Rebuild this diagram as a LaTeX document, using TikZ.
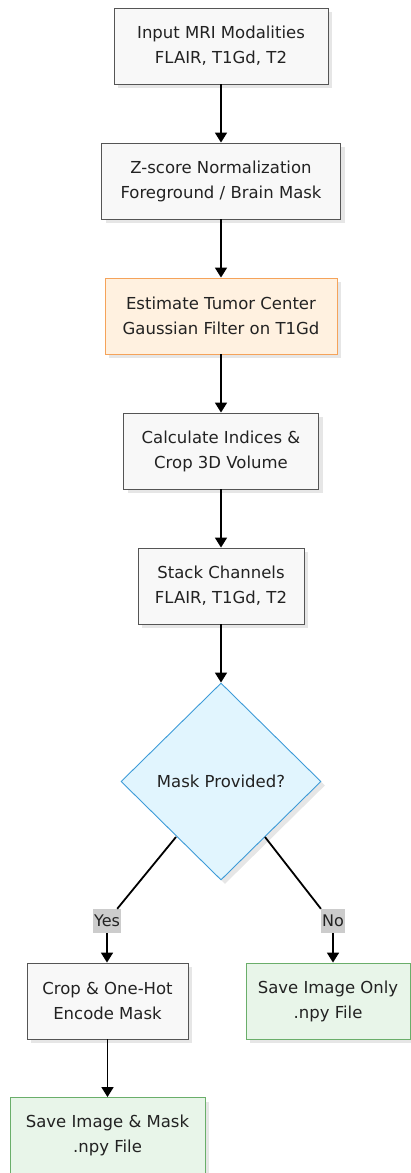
\documentclass[tikz,border=0pt]{standalone}
\usepackage{fontspec}
\setmainfont{DejaVu Sans}
\usetikzlibrary{shapes.geometric,arrows.meta,shadows}
\definecolor{grayfill}{HTML}{F8F8F8}
\definecolor{grayline}{HTML}{555555}
\definecolor{orfill}{HTML}{FFF1E0}
\definecolor{orline}{HTML}{F5A35A}
\definecolor{blfill}{HTML}{E1F5FE}
\definecolor{blline}{HTML}{3D9BD8}
\definecolor{grfill}{HTML}{E8F5E9}
\definecolor{grline}{HTML}{6AAE6A}
\definecolor{shade}{HTML}{E6E6E6}
\definecolor{lblbg}{HTML}{CCCCCC}
\definecolor{txt}{HTML}{222222}
\tikzset{
  x=1pt, y=-1pt,
  base/.style={rectangle, line width=0.9pt, minimum height=76pt, align=center,
    font=\fontsize{16.5}{25}\selectfont, text=txt, inner sep=0pt,
    drop shadow={shadow xshift=4pt, shadow yshift=-4pt, fill=shade, opacity=1}},
  procbox/.style={base, draw=grayline, fill=grayfill},
  orbox/.style={base, draw=orline, fill=orfill},
  grbox/.style={base, draw=grline, fill=grfill},
  decis/.style={diamond, aspect=1, draw=blline, fill=blfill, line width=0.9pt,
    minimum width=200pt, minimum height=197pt, inner sep=0pt,
    font=\fontsize{16.5}{20}\selectfont, text=txt,
    drop shadow={shadow xshift=4pt, shadow yshift=-4pt, fill=shade, opacity=1}},
  flow/.style={line width=1.8pt, -{Triangle[length=10pt,width=12pt]}},
  seg/.style={line width=1.8pt},
  lbl/.style={fill=lblbg, text=txt, inner sep=1pt, minimum height=24pt,
    font=\fontsize{16}{18}\selectfont}
}
\begin{document}
\begin{tikzpicture}
\useasboundingbox (0,0) rectangle (411,1173);
\node[procbox, minimum width=214pt] (n1) at (221,46) {Input MRI Modalities\\FLAIR, T1Gd, T2};
\node[procbox, minimum width=239pt] (n2) at (221,181) {Z-score Normalization\\Foreground / Brain Mask};
\node[orbox, minimum width=232pt] (n3) at (221,316) {Estimate Tumor Center\\Gaussian Filter on T1Gd};
\node[procbox, minimum width=195pt] (n4) at (221,451) {Calculate Indices \&\\Crop 3D Volume};
\node[procbox, minimum width=166pt] (n5) at (221,586) {Stack Channels\\FLAIR, T1Gd, T2};
\node[decis] (d) at (221,781.5) {Mask Provided?};
\node[procbox, minimum width=161pt] (n6) at (107.5,1001) {Crop \& One-Hot\\Encode Mask};
\node[grbox, minimum width=164pt] (n7) at (328,1001) {Save Image Only\\.npy File};
\node[grbox, minimum width=195pt] (n8) at (107.5,1135.5) {Save Image \& Mask\\.npy File};

\draw[flow] (n1) -- (n2);
\draw[flow] (n2) -- (n3);
\draw[flow] (n3) -- (n4);
\draw[flow] (n4) -- (n5);
\draw[flow] (n5) -- (d);

\node[lbl, minimum width=28pt] (yes) at (107,921) {Yes};
\node[lbl, minimum width=20pt] (no) at (333,921) {No};
\coordinate (ya) at (176,837);
\coordinate (na) at (265,837);
\draw[seg] (ya) -- ([xshift=-4pt]yes.north east);
\draw[seg] (na) -- (no.north west);
\draw[flow] (yes.south) -- (yes.south |- n6.north);
\draw[flow] (no.south) -- (no.south |- n7.north);
\draw[flow] (n6) -- (n8);
\end{tikzpicture}
\end{document}
